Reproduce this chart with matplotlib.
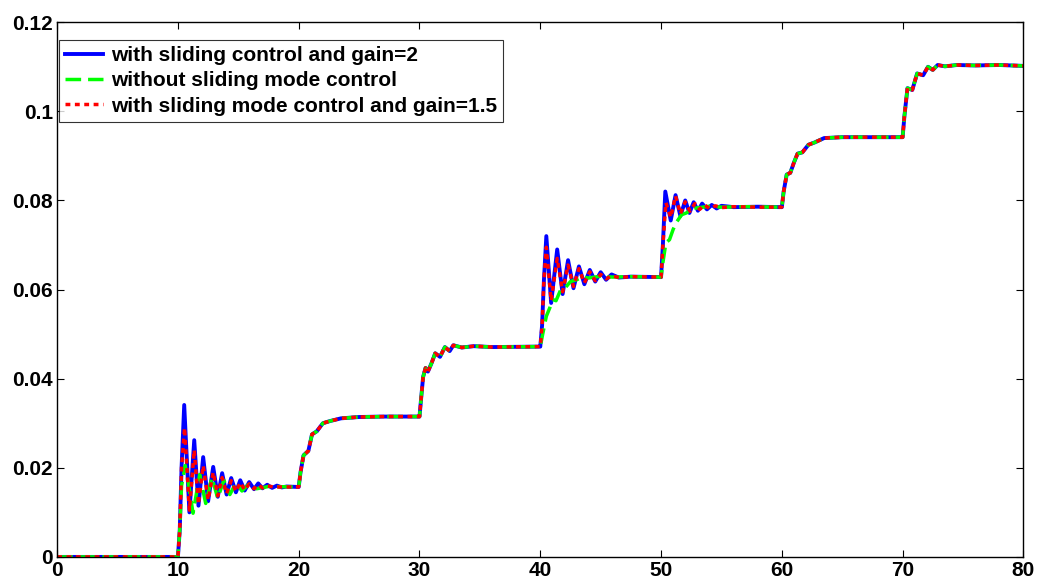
import numpy as np
import matplotlib
matplotlib.use("Agg")
import matplotlib.pyplot as plt

# ---- data ----
# common segments (all three curves coincide here)
seg0_t = [0.0, 10.0]
seg0_y = [0.0, 0.0]

step20_t = [20.0, 20.15, 20.4, 20.6, 20.8, 21.1, 21.5, 22.0, 22.6, 23.5, 25.0, 27.0, 29.95]
step20_y = [0.0157, 0.0190, 0.0228, 0.0233, 0.0238, 0.0275, 0.0282, 0.0300, 0.0305, 0.0311, 0.0314, 0.0315, 0.0315]

step30_t = [30.0, 30.15, 30.3, 30.5, 30.7, 31.0, 31.3, 31.7, 32.1, 32.5, 32.8, 33.5, 34.5, 36.0, 39.95]
step30_y = [0.0315, 0.0360, 0.0404, 0.0424, 0.0416, 0.0435, 0.0457, 0.0449, 0.0471, 0.0462, 0.0475, 0.0470, 0.0473, 0.0471, 0.0472]

step60_t = [60.0, 60.15, 60.4, 60.7, 61.0, 61.3, 61.7, 62.2, 62.7, 63.5, 65.0, 69.95]
step60_y = [0.0785, 0.0820, 0.0858, 0.0862, 0.0885, 0.0905, 0.0908, 0.0925, 0.0930, 0.0940, 0.0942, 0.0942]

step70_t = [70.0, 70.15, 70.4, 70.8, 71.2, 71.7, 72.1, 72.5, 72.9, 73.5, 74.5, 76.0, 78.0, 80.0]
step70_y = [0.0942, 0.0990, 0.1052, 0.1048, 0.1085, 0.1081, 0.1100, 0.1093, 0.1104, 0.1101, 0.1104, 0.1103, 0.1104, 0.1102]

# series-specific segments: sliding control, gain = 2 (blue)
blue10_t = [10.0, 10.15, 10.3, 10.52, 10.95, 11.35, 11.7, 12.09, 12.5, 12.92, 13.3, 13.66, 14.03, 14.41,
            14.8, 15.16, 15.53, 15.9, 16.3, 16.65, 17.0, 17.39, 17.8, 18.2, 18.6, 19.0, 19.95]
blue10_y = [0.0, 0.006, 0.020, 0.0341, 0.0100, 0.0262, 0.0115, 0.0224, 0.0125, 0.0202, 0.0135, 0.0188, 0.0140, 0.0177,
            0.0145, 0.0172, 0.0149, 0.0168, 0.0152, 0.0165, 0.0154, 0.0162, 0.0155, 0.0160, 0.0156, 0.0158, 0.0157]
blue40_t = [40.0, 40.15, 40.3, 40.5, 40.9, 41.4, 41.85, 42.3, 42.75, 43.2, 43.65, 44.1, 44.55, 45.0, 45.45,
            45.9, 46.5, 47.5, 49.95]
blue40_y = [0.0472, 0.052, 0.062, 0.0720, 0.0570, 0.0690, 0.0590, 0.0666, 0.0603, 0.0652, 0.0612, 0.0644, 0.0618,
            0.0639, 0.0622, 0.0634, 0.0627, 0.0629, 0.0628]
blue50_t = [50.0, 50.15, 50.35, 50.8, 51.2, 51.6, 52.0, 52.35, 52.7, 53.05, 53.4, 53.8, 54.2, 54.6, 55.0,
            56.0, 58.0, 59.95]
blue50_y = [0.0628, 0.070, 0.0820, 0.0755, 0.0812, 0.0765, 0.0800, 0.0772, 0.0796, 0.0777, 0.0793, 0.0780,
            0.0790, 0.0782, 0.0788, 0.0785, 0.0786, 0.0785]

# without sliding mode control (green)
green10_t = [10.0, 10.15, 10.3, 10.6, 10.9, 11.25, 11.8, 12.3, 12.8, 13.3, 13.8, 14.3, 14.8, 15.3, 15.8,
             16.5, 17.5, 19.95]
green10_y = [0.0, 0.006, 0.016, 0.0205, 0.0160, 0.0098, 0.0185, 0.0120, 0.0178, 0.0132, 0.0172, 0.0140,
             0.0166, 0.0148, 0.0162, 0.0153, 0.0158, 0.0157]
green40_t = [40.0, 40.2, 40.5, 40.8, 41.0, 41.3, 41.7, 42.1, 42.5, 43.0, 43.5, 44.0, 45.0, 46.0, 47.5, 49.95]
green40_y = [0.0472, 0.0500, 0.0540, 0.0560, 0.0578, 0.0575, 0.0600, 0.0605, 0.0618, 0.0622, 0.0628, 0.0626,
             0.0630, 0.0628, 0.0629, 0.0628]
green50_t = [50.0, 50.15, 50.4, 50.7, 51.0, 51.3, 51.7, 52.1, 52.6, 53.2, 54.0, 55.0, 57.0, 59.95]
green50_y = [0.0628, 0.066, 0.0705, 0.0712, 0.0735, 0.0752, 0.0768, 0.0772, 0.0782, 0.0784, 0.0787, 0.0785,
             0.0786, 0.0785]

# sliding mode control, gain = 1.5 (red)
red10_t = [10.0, 10.15, 10.3, 10.55, 10.95, 11.35, 11.7, 12.09, 12.5, 12.92, 13.3, 13.66, 14.03, 14.41,
           14.8, 15.16, 15.53, 15.9, 16.3, 16.65, 17.0, 17.4, 18.0, 19.95]
red10_y = [0.0, 0.006, 0.020, 0.0290, 0.0105, 0.0240, 0.0118, 0.0205, 0.0128, 0.0190, 0.0137, 0.0178, 0.0142,
           0.0171, 0.0147, 0.0167, 0.0150, 0.0164, 0.0153, 0.0162, 0.0155, 0.0159, 0.0157, 0.0157]
red40_t = [40.0, 40.15, 40.3, 40.5, 40.9, 41.4, 41.85, 42.3, 42.75, 43.2, 43.65, 44.1, 44.55, 45.0, 45.45,
           45.9, 46.5, 47.5, 49.95]
red40_y = [0.0472, 0.052, 0.062, 0.0695, 0.0575, 0.0670, 0.0595, 0.0655, 0.0607, 0.0647, 0.0615, 0.0640,
           0.0620, 0.0634, 0.0624, 0.0631, 0.0627, 0.0629, 0.0628]
red50_t = [50.0, 50.15, 50.4, 50.8, 51.2, 51.6, 52.0, 52.4, 52.8, 53.2, 53.6, 54.0, 54.5, 55.0, 56.0, 58.0, 59.95]
red50_y = [0.0628, 0.070, 0.0795, 0.0762, 0.0810, 0.0770, 0.0797, 0.0776, 0.0793, 0.0780, 0.0790, 0.0782,
           0.0788, 0.0784, 0.0786, 0.0785, 0.0785]

labels = ["with sliding control and gain=2",
          "without sliding mode control",
          "with sliding mode control and gain=1.5"]

x_ticks = [0, 10, 20, 30, 40, 50, 60, 70, 80]
y_ticks = [0, 0.02, 0.04, 0.06, 0.08, 0.1, 0.12]
y_tick_labels = ["0", "0.02", "0.04", "0.06", "0.08", "0.1", "0.12"]


def build(s10t, s10y, s40t, s40y, s50t, s50y):
    t = seg0_t + s10t + step20_t + step30_t + s40t + s50t + step60_t + step70_t
    y = seg0_y + s10y + step20_y + step30_y + s40y + s50y + step60_y + step70_y
    return np.array(t), np.array(y)


tb, yb = build(blue10_t, blue10_y, blue40_t, blue40_y, blue50_t, blue50_y)
tg, yg = build(green10_t, green10_y, green40_t, green40_y, green50_t, green50_y)
tr, yr = build(red10_t, red10_y, red40_t, red40_y, red50_t, red50_y)

plt.rcParams['font.family'] = ['Liberation Sans', 'DejaVu Sans']
plt.rcParams['font.weight'] = 'bold'

fig = plt.figure(figsize=(10.39, 5.85), dpi=100)
ax = fig.add_axes([0.055, 0.048, 0.93, 0.914])

ax.plot(tb, yb, color=(0, 0, 1), lw=2.8, solid_joinstyle='round', label=labels[0])
ax.plot(tg, yg, color=(0, 1, 0), lw=2.5, dashes=(4.5, 2.0), label=labels[1])
ax.plot(tr, yr, color=(1, 0, 0), lw=2.5, dashes=(1.4, 1.3), label=labels[2])

ax.set_xlim(0, 80)
ax.set_ylim(0, 0.12)
ax.set_xticks(x_ticks)
ax.set_xticklabels([str(v) for v in x_ticks])
ax.set_yticks(y_ticks)
ax.set_yticklabels(y_tick_labels)
ax.tick_params(direction='in', length=5, width=0.8, top=True, right=True,
               labelsize=15, pad=3)
for lab in ax.get_xticklabels() + ax.get_yticklabels():
    lab.set_fontweight('bold')
for sp in ax.spines.values():
    sp.set_linewidth(1.0)

leg = ax.legend(loc='upper left', bbox_to_anchor=(0.0015, 0.967),
                prop={'weight': 'bold', 'size': 15}, frameon=True, fancybox=False,
                handlelength=1.85, handletextpad=0.35, borderpad=0.3, labelspacing=0.3,
                borderaxespad=0.0)
leg.get_frame().set_edgecolor('black')
leg.get_frame().set_linewidth(0.8)

fig.savefig("out.png", dpi=100)
